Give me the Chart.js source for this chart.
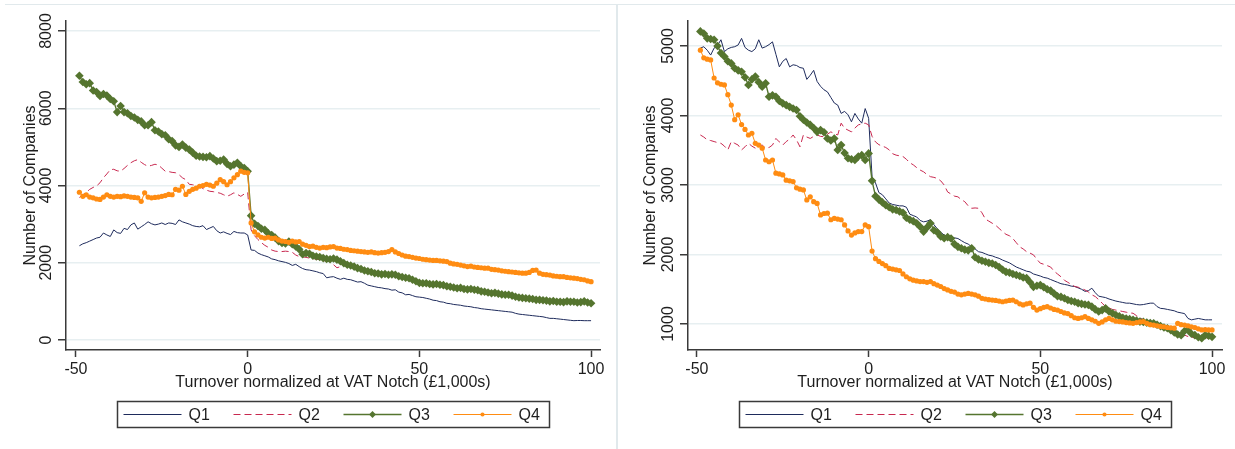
<!DOCTYPE html>
<html>
<head>
<meta charset="utf-8">
<title>Number of Companies around the VAT notch</title>
<script src="https://cdn.jsdelivr.net/npm/chart.js@4.4.1/dist/chart.umd.min.js"></script>
<style>
  html, body { margin: 0; padding: 0; background: #fff; }
  #page { position: relative; width: 1235px; height: 449px; overflow: hidden; }
  #leftChart { position: absolute; left: 0; top: 0; }
  #rightChart { position: absolute; left: 617px; top: 0; }
  .frame { position: absolute; border: 0 solid #e1e9ec; }
</style>
</head>
<body>
<div id="page">
  <div class="frame" style="left:5px; top:4px; width:611px; height:460px; border-top-width:1px; border-right-width:1px;"></div>
  <div class="frame" style="left:617px; top:4px; width:630px; height:460px; border-top-width:1px; border-left-width:1px;"></div>
  <canvas id="leftChart" width="616" height="449"></canvas>
  <canvas id="rightChart" width="618" height="449"></canvas>
</div>
<script>
// turnover bins (£1,000s, normalized at the VAT notch)
const turnover = [
  -49, -48, -47, -46, -45, -44, -43, -42, -41, -40,
  -39, -38, -37, -36, -35, -34, -33, -32, -31, -30,
  -29, -28, -27, -26, -25, -24, -23, -22, -21, -20,
  -19, -18, -17, -16, -15, -14, -13, -12, -11, -10,
  -9, -8, -7, -6, -5, -4, -3, -2, -1, 0,
  1, 2, 3, 4, 5, 6, 7, 8, 9, 10,
  11, 12, 13, 14, 15, 16, 17, 18, 19, 20,
  21, 22, 23, 24, 25, 26, 27, 28, 29, 30,
  31, 32, 33, 34, 35, 36, 37, 38, 39, 40,
  41, 42, 43, 44, 45, 46, 47, 48, 49, 50,
  51, 52, 53, 54, 55, 56, 57, 58, 59, 60,
  61, 62, 63, 64, 65, 66, 67, 68, 69, 70,
  71, 72, 73, 74, 75, 76, 77, 78, 79, 80,
  81, 82, 83, 84, 85, 86, 87, 88, 89, 90,
  91, 92, 93, 94, 95, 96, 97, 98, 99, 100
];

// left panel
const leftQ1 = [
  2440, 2490, 2520, 2560, 2600, 2640, 2660, 2770, 2720, 2680,
  2850, 2780, 2760, 2890, 2860, 2980, 3030, 2870, 2930, 2990,
  3060, 3010, 2980, 3000, 3030, 2990, 3030, 3020, 2990, 3110,
  3060, 3030, 3000, 2960, 2940, 2930, 2960, 2860, 2900, 2940,
  2830, 2770, 2800, 2760, 2730, 2810, 2780, 2770, 2770, 2720,
  2330, 2320, 2250, 2210, 2180, 2150, 2100, 2080, 2050, 2030,
  2010, 1980, 1930, 1960, 1900, 1850, 1820, 1810, 1790, 1770,
  1740, 1720, 1610, 1630, 1640, 1600, 1570, 1600, 1570, 1560,
  1530, 1500, 1510, 1470, 1420, 1400, 1380, 1360, 1350, 1330,
  1320, 1290, 1300, 1240, 1220, 1170, 1180, 1150, 1120, 1110,
  1100, 1080, 1060, 1030, 1020, 990, 980, 950, 940, 920,
  910, 900, 880, 870, 860, 840, 830, 810, 800, 790,
  780, 770, 760, 750, 740, 730, 720, 690, 670, 660,
  650, 640, 630, 620, 610, 600, 580, 560, 560, 550,
  540, 530, 520, 510, 500, 505, 505, 500, 500, 500
];
const leftQ2 = [
  3690, 3760, 3820, 3900, 3950, 3990, 4070, 4200, 4300, 4410,
  4420, 4380, 4370, 4440, 4520, 4590, 4640, 4670, 4600, 4540,
  4500, 4520, 4550, 4530, 4450, 4370, 4360, 4340, 4330, 4280,
  4200, 4150, 4030, 4020, 4000, 3980, 3920, 3880, 3850, 3840,
  3820, 3800, 3760, 3720, 3760, 3810, 3770, 3720, 3780, 3820,
  2850, 2700, 2600, 2520, 2450, 2400, 2330, 2300, 2290, 2290,
  2300, 2290, 2270, 2200, 2160, 2150, 2140, 2120, 2110, 2090,
  2080, 2060, 2040, 2030, 1950, 1870, 1900, 1960, 1930, 1900,
  1880, 1850, 1830, 1790, 1770, 1750, 1720, 1710, 1690, 1690,
  1680, 1660, 1660, 1640, 1620, 1600, 1580, 1550, 1510, 1470,
  1460, 1450, 1440, 1430, 1430, 1420, 1400, 1380, 1370, 1350,
  1330, 1330, 1310, 1300, 1300, 1290, 1270, 1250, 1240, 1220,
  1200, 1200, 1190, 1170, 1160, 1150, 1140, 1110, 1090, 1080,
  1070, 1060, 1050, 1030, 1030, 1020, 1000, 990, 990, 980,
  970, 970, 980, 970, 960, 950, 960, 970, 950, 930
];
const leftQ3 = [
  6840, 6680, 6620, 6650, 6460, 6420, 6320, 6370, 6330, 6240,
  6180, 5900, 6060, 5900, 5870, 5800, 5760, 5700, 5660, 5560,
  5560, 5640, 5430, 5400, 5330, 5300, 5200, 5150, 5040, 5000,
  5060, 4980, 4930, 4850, 4770, 4750, 4740, 4730, 4760, 4700,
  4630, 4640, 4670, 4560, 4500, 4540, 4590, 4500, 4450, 4370,
  3220, 3010, 2950, 2880, 2850, 2760, 2720, 2650, 2560, 2510,
  2500, 2550, 2480, 2420, 2350, 2220, 2250, 2230, 2180, 2160,
  2150, 2120, 2100, 2090, 2110, 2080, 2040, 1990, 1950, 1930,
  1900, 1860, 1840, 1800, 1780, 1760, 1730, 1720, 1700, 1710,
  1690, 1700, 1690, 1650, 1630, 1610, 1600, 1560, 1520, 1480,
  1470, 1470, 1450, 1440, 1450, 1430, 1420, 1390, 1380, 1360,
  1340, 1350, 1320, 1310, 1320, 1300, 1290, 1260, 1250, 1230,
  1210, 1220, 1200, 1180, 1170, 1170, 1150, 1120, 1100, 1090,
  1080, 1070, 1060, 1040, 1040, 1030, 1020, 1000, 1010, 990,
  990, 980, 1000, 990, 990, 970, 980, 1000, 970, 950
];
const leftQ4 = [
  3825, 3720, 3760, 3700, 3680, 3650, 3640, 3700, 3760, 3720,
  3700, 3720, 3710, 3730, 3720, 3700, 3690, 3680, 3590, 3810,
  3700, 3680, 3690, 3700, 3720, 3740, 3770, 3760, 3900, 3880,
  3980, 3770, 3850, 3900, 3930, 3980, 4000, 4030, 4010, 3980,
  4060, 4150, 4100, 4020, 4100, 4200, 4280, 4370, 4340, 4330,
  3030, 2800, 2720, 2660, 2640, 2660, 2630, 2640, 2590, 2560,
  2550, 2530, 2560, 2540, 2550, 2480, 2450, 2420, 2430, 2400,
  2380, 2400, 2390, 2410, 2420, 2380, 2370, 2350, 2340, 2320,
  2310, 2300, 2290, 2280, 2270, 2280, 2260, 2250, 2260, 2270,
  2290, 2340, 2280, 2240, 2200, 2170, 2160, 2140, 2120, 2110,
  2090, 2080, 2070, 2060, 2060, 2050, 2040, 2030, 1990, 1970,
  1960, 1940, 1920, 1900, 1910, 1890, 1880, 1870, 1860, 1860,
  1830, 1820, 1810, 1790, 1780, 1770, 1760, 1750, 1740, 1730,
  1730, 1750, 1800, 1810, 1730, 1700, 1690, 1680, 1660, 1650,
  1640, 1640, 1620, 1610, 1600, 1590, 1570, 1560, 1530, 1510
];

// right panel
const rightQ1 = [
  4970, 4990, 4940, 4870, 4970, 5010, 5090, 4920, 4960, 4980,
  4990, 5015, 5110, 4980, 4940, 4920, 4960, 5090, 4970, 4990,
  5020, 5060, 4880, 4700, 4780, 4820, 4700, 4730, 4720, 4690,
  4680, 4520, 4580, 4650, 4490, 4420, 4370, 4340, 4260, 4180,
  4150, 4030, 4060, 4010, 3910, 4030, 3950, 3890, 4100, 3960,
  3120, 3030, 2890, 2860, 2800, 2740, 2720, 2710, 2700, 2700,
  2680, 2580, 2560, 2540, 2490, 2470, 2480, 2500, 2430, 2370,
  2320, 2280, 2260, 2250, 2240, 2230, 2200, 2170, 2150, 2110,
  2080, 2040, 2030, 2010, 1990, 1980, 1960, 1945, 1920, 1900,
  1880, 1850, 1820, 1800, 1780, 1760, 1750, 1720, 1705, 1690,
  1670, 1660, 1640, 1620, 1600, 1580, 1570, 1560, 1545, 1540,
  1520, 1500, 1470, 1480, 1515, 1450, 1400, 1390, 1380, 1360,
  1345, 1330, 1320, 1310, 1300, 1300, 1290, 1280, 1275, 1280,
  1290, 1300, 1300, 1250, 1225, 1220, 1210, 1200, 1190, 1170,
  1160, 1150, 1080, 1060, 1070, 1080, 1070, 1060, 1060, 1060
];
const rightQ2 = [
  3720, 3690, 3650, 3640, 3625, 3610, 3600, 3560, 3505, 3625,
  3600, 3575, 3505, 3550, 3600, 3560, 3530, 3560, 3575, 3530,
  3540, 3575, 3670, 3620, 3575, 3625, 3660, 3720, 3650, 3550,
  3720, 3690, 3670, 3700, 3720, 3700, 3695, 3730, 3765, 3740,
  3720, 3890, 3815, 3790, 3765, 3820, 3865, 3880, 3890, 3865,
  3700, 3620, 3580, 3560, 3540, 3505, 3450, 3430, 3420, 3410,
  3370, 3320, 3290, 3250, 3215, 3190, 3150, 3120, 3110, 3095,
  3060, 3000, 2900, 2870, 2840, 2830, 2790, 2760, 2700, 2665,
  2670, 2665, 2600, 2510, 2480, 2450, 2420, 2375, 2330, 2290,
  2270, 2230, 2170, 2110, 2080, 2040, 2020, 1995, 1930, 1875,
  1860, 1840, 1820, 1760, 1720, 1680, 1630, 1600, 1570, 1540,
  1530, 1510, 1490, 1460, 1420, 1395, 1350, 1300, 1250, 1230,
  1210, 1200, 1190, 1180, 1170, 1160, 1155, 1120, 1090, 1060,
  1040, 1020, 1000, 980, 960, 940, 920, 900, 880, 860,
  850, 840, 820, 810, 800, 800, 790, 810, 790, 780
];
const rightQ3 = [
  5210, 5180, 5110, 5100, 5090, 5000, 4900, 4850, 4780, 4750,
  4680, 4650, 4630, 4550, 4440, 4520, 4560, 4480, 4415, 4465,
  4270, 4290, 4270, 4210, 4175, 4150, 4125, 4100, 4080, 3990,
  3940, 3900, 3865, 3820, 3765, 3790, 3760, 3670, 3640, 3670,
  3505, 3575, 3460, 3385, 3370, 3360, 3410, 3430, 3360, 3455,
  3060, 2840, 2790, 2750, 2710, 2680, 2650, 2640, 2620, 2600,
  2530, 2500, 2480, 2450, 2400, 2330, 2390, 2450, 2350, 2320,
  2260, 2235, 2250, 2230, 2150, 2110, 2090, 2070, 2060, 2090,
  1960, 1930, 1910, 1895, 1880, 1870, 1850, 1820, 1780, 1750,
  1740, 1720, 1705, 1690, 1670, 1660, 1600, 1535, 1550, 1560,
  1530, 1500, 1480, 1440, 1400, 1390, 1370, 1345, 1330, 1320,
  1300, 1290, 1280, 1275, 1250, 1210, 1180, 1200, 1225, 1180,
  1155, 1130, 1110, 1090, 1080, 1070, 1060, 1050, 1035, 1030,
  1020, 1015, 1010, 990, 970, 950, 940, 910, 880, 850,
  840, 900, 915, 860, 840, 810, 795, 840, 830, 815
];
const rightQ4 = [
  4940, 4830, 4810, 4800, 4540, 4470, 4450, 4440, 4300, 4150,
  3940, 4010, 3870, 3800, 3720, 3745, 3600, 3575, 3530, 3360,
  3335, 3360, 3170, 3160, 3145, 3070, 3060, 3050, 2960, 2940,
  2930, 2785, 2830, 2760, 2735, 2570, 2590, 2595, 2500, 2520,
  2510, 2500, 2425, 2340, 2280, 2310, 2330, 2330, 2425, 2400,
  2050, 1940, 1900, 1870, 1840, 1800, 1790, 1780, 1770, 1720,
  1680, 1650, 1630, 1620, 1610, 1610, 1600, 1610, 1580, 1560,
  1540, 1510, 1490, 1470, 1460, 1430, 1420, 1430, 1440, 1430,
  1420, 1400, 1370, 1360, 1350, 1345, 1340, 1330, 1320, 1330,
  1340, 1345, 1320, 1290, 1275, 1290, 1300, 1240, 1200, 1220,
  1240, 1250, 1230, 1210, 1200, 1180, 1160, 1150, 1120, 1090,
  1080, 1090, 1105, 1080, 1060, 1040, 1010, 1030, 1060, 1080,
  1060, 1040, 1035, 1030, 1020, 1015, 1010, 1020, 1030, 1035,
  1010, 990, 985, 975, 965, 960, 950, 945, 940, 1010,
  990, 985, 975, 960, 950, 930, 915, 920, 915, 915
];

const seriesNames = ['Q1', 'Q2', 'Q3', 'Q4'];
const seriesColors = ['#1e2b5c', '#c8284f', '#55752f', '#ff8c12'];
const xTicks = [-50, 0, 50, 100];
const leftYTicks = [0, 2000, 4000, 6000, 8000];
const rightYTicks = [1000, 2000, 3000, 4000, 5000];

const FONT = "'Liberation Sans', Arial, Helvetica, sans-serif";
const INK = '#1e1e1e';
const AXIS = '#3a3a3a';

// boxed legend under the plot, Stata style
const boxLegend = {
  id: 'boxLegend',
  afterDraw(chart) {
    const { ctx, chartArea } = chart;
    const w = 432, h = 26;
    const left = Math.round((chartArea.left + chartArea.right) / 2 - w / 2) + 0.5;
    const top = 401.5;
    ctx.save();
    ctx.strokeStyle = AXIS;
    ctx.lineWidth = 1.5;
    ctx.strokeRect(left, top, w, h);
    const cy = top + h / 2;
    chart.data.datasets.forEach((ds, i) => {
      const x0 = left + 6 + i * 110;
      ctx.save();
      ctx.strokeStyle = ds.borderColor;
      ctx.lineWidth = ds.borderWidth;
      ctx.setLineDash(ds.borderDash || []);
      ctx.beginPath();
      ctx.moveTo(x0, cy);
      ctx.lineTo(x0 + 58, cy);
      ctx.stroke();
      ctx.restore();
      if (ds.pointRadius > 0) {
        ctx.fillStyle = ds.backgroundColor;
        ctx.strokeStyle = ds.borderColor;
        Chart.helpers.drawPoint(ctx, { pointStyle: ds.pointStyle, radius: ds.pointRadius * 0.8, borderWidth: 0, rotation: 0 }, x0 + 29, cy);
      }
      ctx.fillStyle = INK;
      ctx.font = '16px ' + FONT;
      ctx.textAlign = 'left';
      ctx.textBaseline = 'middle';
      ctx.fillText(ds.label, x0 + 65, cy + 1);
    });
    ctx.restore();
  }
};

function buildDatasets(series) {
  return series.map((vals, i) => ({
    label: seriesNames[i],
    data: turnover.map((x, k) => ({ x: x, y: vals[k] })),
    borderColor: seriesColors[i],
    backgroundColor: seriesColors[i],
    borderWidth: i === 2 ? 1.4 : 1,
    borderDash: i === 1 ? [7, 4] : [],
    pointStyle: i === 2 ? 'rectRot' : 'circle',
    pointRadius: i === 2 ? 4.3 : (i === 3 ? 2.6 : 0),
    pointBorderWidth: 0,
    pointHoverRadius: 0,
    tension: 0,
    order: 4 - i
  }));
}

function makePanel(id, series, yTicks, xMin, xMax, yMin, yMax, yWidth, padRight, yTitlePad) {
  return new Chart(document.getElementById(id), {
    type: 'line',
    data: { datasets: buildDatasets(series) },
    options: {
      responsive: false,
      animation: false,
      layout: { padding: { top: 21, right: padRight, bottom: 49, left: 0 } },
      plugins: { legend: { display: false }, tooltip: { enabled: false } },
      scales: {
        x: {
          type: 'linear',
          min: xMin,
          max: xMax,
          afterBuildTicks: s => { s.ticks = xTicks.map(v => ({ value: v })); },
          afterFit: s => { s.height = 50; },
          grid: { drawOnChartArea: false, drawTicks: true, tickLength: 7, tickColor: AXIS, tickWidth: 1.5 },
          border: { display: true, color: AXIS, width: 1.5 },
          ticks: { autoSkip: false, maxRotation: 0, padding: 3, color: INK, font: { family: FONT, size: 16 }, callback: v => String(v) },
          title: { display: true, text: 'Turnover normalized at VAT Notch (£1,000s)', color: INK, font: { family: FONT, size: 16 }, padding: { top: 0, bottom: 8 } }
        },
        y: {
          type: 'linear',
          min: yMin,
          max: yMax,
          afterBuildTicks: s => { s.ticks = yTicks.map(v => ({ value: v })); },
          afterFit: s => { s.width = yWidth; },
          grid: { color: '#e7eff1', lineWidth: 1.5, drawTicks: true, tickLength: 8, tickColor: AXIS, tickWidth: 1.5 },
          border: { display: true, color: AXIS, width: 1.5 },
          ticks: { minRotation: 90, maxRotation: 90, crossAlign: 'center', padding: -6, color: INK, font: { family: FONT, size: 16 }, callback: v => String(v) },
          title: { display: true, text: 'Number of Companies', color: INK, font: { family: FONT, size: 16 }, padding: { top: yTitlePad, bottom: 0 } }
        }
      }
    },
    plugins: [boxLegend]
  });
}

makePanel('leftChart', [leftQ1, leftQ2, leftQ3, leftQ4], leftYTicks, -52.9, 102.6, -259, 8259, 66, 16, 21);
makePanel('rightChart', [rightQ1, rightQ2, rightQ3, rightQ4], rightYTicks, -52.6, 102.9, 626, 5360, 71, 13, 24);
</script>
</body>
</html>
